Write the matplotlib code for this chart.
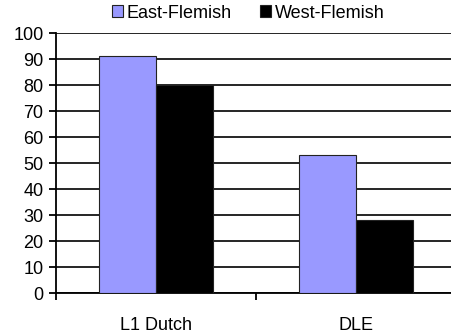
import matplotlib
matplotlib.use("Agg")
import matplotlib.pyplot as plt
import numpy as np

categories = ["L1 Dutch", "DLE"]
series_names = ["East-Flemish", "West-Flemish"]
east = [91, 53]
west = [80, 28]
colors = ["#9999FF", "#000000"]
yticks = [0, 10, 20, 30, 40, 50, 60, 70, 80, 90, 100]

plt.rcParams['font.family'] = ['Liberation Sans', 'DejaVu Sans']

W, H = 451, 336
fig = plt.figure(figsize=(W/100, H/100), dpi=100)
ax = fig.add_axes([56/W, 1 - 293/H, 1 - 56/W, 260/H])

x = np.arange(len(categories))
bw = 0.285
b1 = ax.bar(x - bw/2, east, bw, color=colors[0], edgecolor="#222222", linewidth=0.8, zorder=3, label=series_names[0])
b2 = ax.bar(x + bw/2, west, bw, color=colors[1], edgecolor="#222222", linewidth=0.8, zorder=3, label=series_names[1])

fs = 13
ax.set_ylim(0, 100)
ax.set_xlim(-0.5, 1.475)
ax.set_yticks(yticks)
ax.yaxis.grid(True, color="black", linewidth=1.2, zorder=0)
ax.set_axisbelow(True)
for s in ["top", "right"]:
    ax.spines[s].set_visible(False)
ax.spines["left"].set_linewidth(1.3)
ax.spines["bottom"].set_linewidth(1.3)
ax.tick_params(axis="y", length=5, width=1.3, labelsize=fs, pad=4)
ax.set_xticks([-0.5, 0.5])
ax.set_xticklabels([])
ax.set_xticks(x, minor=True)
ax.set_xticklabels(categories, minor=True)
ax.tick_params(axis="x", which="major", length=5, width=1.3, direction="out")
ax.tick_params(axis="x", which="minor", length=0, labelsize=fs, pad=17)

fig.legend(handles=[b1, b2], labels=series_names, loc="center", bbox_to_anchor=(248/W, 1 - 13/H),
           ncol=2, frameon=False, fontsize=fs, handlelength=0.6, handleheight=0.6,
           handletextpad=0.2, columnspacing=1.6, borderpad=0)

fig.savefig("out.png", dpi=100)
